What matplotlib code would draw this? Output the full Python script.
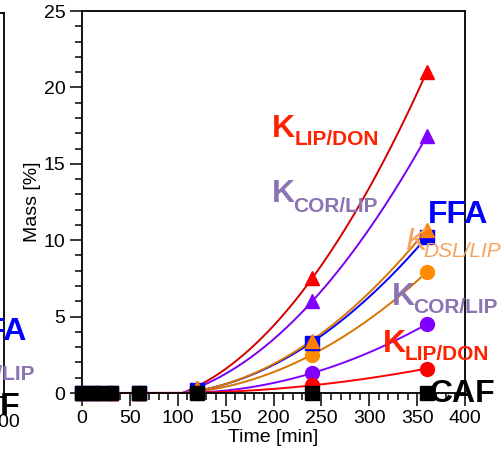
import numpy as np
import matplotlib
matplotlib.use("Agg")
import matplotlib.pyplot as plt
from matplotlib.ticker import MultipleLocator

plt.rcParams["font.family"] = "Liberation Sans"

# sampling times [min] and mass fractions [%]
time = [0, 15, 30, 60, 120, 240, 360]
lip_don_tri = [0, 0, 0, 0, 0.3, 7.5, 21.0]
cor_lip_tri = [0, 0, 0, 0, 0.2, 6.0, 16.8]
ffa = [0, 0, 0, 0, 0.2, 3.3, 10.2]
dsl_lip_tri = [0, 0, 0, 0, 0.3, 3.4, 10.7]
dsl_lip_circ = [0, 0, 0, 0, 0.1, 2.5, 7.9]
cor_lip_circ = [0, 0, 0, 0, 0.0, 1.3, 4.5]
lip_don_circ = [0, 0, 0, 0, 0.0, 0.5, 1.6]
caf = [0, 0, 0, 0, 0, 0, 0]

onset = 105  # reaction starts here, flat before


def growth_fit(t, y, t0=onset):
    # y = a*s + b*s^2 with s = t - t0, least squares on the points after t0
    t = np.asarray(t, float)
    y = np.asarray(y, float)
    keep = t > t0
    s = t[keep] - t0
    A = np.column_stack([s, s ** 2])
    coef, *_ = np.linalg.lstsq(A, y[keep], rcond=None)
    tt = np.linspace(t0, t.max(), 200)
    ss = tt - t0
    yy = coef[0] * ss + coef[1] * ss ** 2
    return np.concatenate([[0], tt]), np.concatenate([[0], yy])


W, H = 504, 467
fig = plt.figure(figsize=(W / 100, H / 100), dpi=100)


def fx(px):
    return px / W


def fy(py):
    return 1 - py / H


def style_axes(a):
    a.set_xlim(0, 400)
    a.set_ylim(0, 25)
    a.xaxis.set_major_locator(MultipleLocator(50))
    a.xaxis.set_minor_locator(MultipleLocator(10))
    a.yaxis.set_major_locator(MultipleLocator(5))
    a.yaxis.set_minor_locator(MultipleLocator(1))
    a.tick_params(which="major", direction="out", length=9, width=1.1,
                  labelsize=14, pad=3, top=False, right=False)
    a.tick_params(which="minor", direction="out", length=5, width=1.1,
                  top=False, right=False)
    for sp in a.spines.values():
        sp.set_linewidth(1.3)


# neighbouring panel, only its right edge falls inside the figure
ax0 = fig.add_axes([fx(4 - 383), fy(397), 383 / W, (397 - 13) / H])
style_axes(ax0)
ax0.set_xticks([400])
ax0.tick_params(labelleft=False)

ax = fig.add_axes([fx(82), fy(393), (465 - 82) / W, (393 - 11) / H])
style_axes(ax)

series = [
    (lip_don_tri, "^", "#ff0000", "#d40000"),
    (cor_lip_tri, "^", "#8000ff", "#7a00f0"),
    (dsl_lip_circ, "o", "#ff8c00", "#d97400"),
    (cor_lip_circ, "o", "#8000ff", "#8000ff"),
    (ffa, "s", "#0000ff", "#0000ff"),
    (dsl_lip_tri, "^", "#ff8000", "#d97400"),
    (lip_don_circ, "o", "#ff0000", "#ff0000"),
]
for vals, mk, mc, lc in series:
    tt, yy = growth_fit(time, vals)
    ax.plot(tt, yy, color=lc, lw=1.4, zorder=2, clip_on=False)
for vals, mk, mc, lc in series:
    ax.plot(time, vals, ls="none", marker=mk, ms=10, mfc=mc, mec=mc,
            zorder=3, clip_on=False)
ax.plot(time, caf, ls="none", marker="s", ms=10, mfc="black", mec="black",
        zorder=4, clip_on=False)

ax.set_xlabel("Time [min]", fontsize=14, labelpad=2)
ax.set_ylabel("Mass [%]", fontsize=14, labelpad=2)

red = "#ff2200"
lilac = "#8b74b3"
peach = "#f7a35c"
blue = "#0000ff"


def k_label(x, y, sub, color, sx, sy, style="normal", weight="bold", ha="left"):
    fig.text(fx(x), fy(y), "K", color=color, fontsize=23, fontweight=weight,
             fontstyle=style, va="baseline", ha=ha)
    fig.text(fx(sx), fy(sy), sub, color=color, fontsize=15, fontweight=weight,
             fontstyle=style, va="baseline", ha=ha)


k_label(272, 137, "LIP/DON", red, 295, 145)
k_label(272, 202, "COR/LIP", lilac, 293, 212)
fig.text(fx(428), fy(223), "FFA", color=blue, fontsize=23, fontweight="bold",
         va="baseline")
k_label(405, 250, "DSL/LIP", peach, 423, 257, style="italic", weight="normal")
k_label(392, 305, "COR/LIP", lilac, 413, 313)
k_label(383, 352, "LIP/DON", red, 405, 360)
fig.text(fx(430), fy(402), "CAF", color="black", fontsize=23,
         fontweight="bold", va="baseline")

# labels of the neighbouring panel, cut by the figure edge
fig.text(fx(27), fy(340), "FFA", color=blue, fontsize=23, fontweight="bold",
         va="baseline", ha="right")
fig.text(fx(35), fy(380), "COR/LIP", color=lilac, fontsize=15,
         fontweight="bold", va="baseline", ha="right")
fig.text(fx(20), fy(415), "CAF", color="black", fontsize=23,
         fontweight="bold", va="baseline", ha="right")

fig.savefig("out.png", dpi=100)
